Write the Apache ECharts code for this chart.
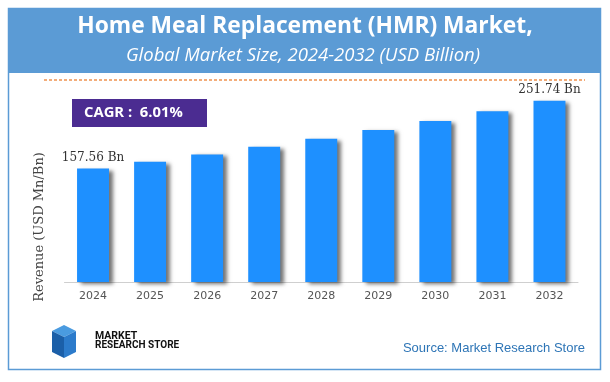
<!DOCTYPE html>
<html>
<head>
<meta charset="utf-8">
<script src="https://cdn.jsdelivr.net/npm/echarts@6/dist/echarts.min.js"></script>
<style>
html,body{margin:0;padding:0;background:#fff;}
#c{width:610px;height:382px;}
</style>
</head>
<body>
<div id="c"></div>
<script>
var years = ['2024','2025','2026','2027','2028','2029','2030','2031','2032'];
var revenue = [157.56, 167.0, 177.1, 187.7, 199.0, 211.0, 223.6, 237.1, 251.74];
var titleText = 'Home Meal Replacement (HMR) Market,';
var subtitleText = 'Global Market Size, 2024-2032 (USD Billion)';
var cagrText = 'CAGR :  6.01%';
var yAxisTitle = 'Revenue (USD Mn/Bn)';
var sourceText = 'Source: Market Research Store';

var chart = echarts.init(document.getElementById('c'), null, {renderer:'canvas'});
var last = revenue.length - 1;
chart.setOption({
  animation:false,
  backgroundColor:'#fff',
  grid:{left:64.5, right:32, top:66, bottom:100},
  xAxis:{
    type:'category', data:years,
    axisLine:{show:true, lineStyle:{color:'#cfcfcf', width:1}},
    axisTick:{show:false},
    axisLabel:{color:'#555', fontFamily:'DejaVu Sans', fontSize:11, margin:9}
  },
  yAxis:{type:'value', min:0, max:300, show:false, splitLine:{show:false}},
  series:[{
    type:'bar', data:revenue, barWidth:'56%',
    itemStyle:{color:'#1E90FF', shadowColor:'rgba(0,0,0,0.55)', shadowBlur:4, shadowOffsetX:4, shadowOffsetY:2},
    label:{show:true, position:'top', distance:5, color:'#333', fontFamily:'DejaVu Serif', fontSize:12,
      formatter:function(p){ return (p.dataIndex===0 || p.dataIndex===last) ? p.value.toFixed(2)+' Bn' : ''; }}
  }],
  graphic:[
    {type:'rect', shape:{x:8.5,y:8.5,width:592,height:361}, style:{fill:'none', stroke:'#5B9BD5', lineWidth:1.5}, z:1},
    {type:'rect', shape:{x:8,y:8,width:593,height:65}, style:{fill:'#5B9BD5'}, z:2},
    {type:'text', x:305, y:27, style:{text:titleText, fill:'#fff', font:'bold 22.8px "Open Sans"', textAlign:'center', textVerticalAlign:'middle'}, z:3},
    {type:'text', x:303, y:56, style:{text:subtitleText, fill:'#fff', font:'italic 18.5px "Open Sans"', textAlign:'center', textVerticalAlign:'middle'}, z:3},
    {type:'line', shape:{x1:44,y1:80,x2:585,y2:80}, style:{stroke:'#F0934F', lineWidth:1.5, lineDash:[3,2]}, z:3},
    {type:'rect', shape:{x:72,y:99,width:135,height:28}, style:{fill:'#4B2C91'}, z:3},
    {type:'text', x:84, y:113, style:{text:cagrText, fill:'#fff', font:'bold 14.8px "Open Sans"', textVerticalAlign:'middle'}, z:4},
    {type:'text', x:40, y:227, rotation:Math.PI/2, style:{text:yAxisTitle, fill:'#444', font:'13px "DejaVu Serif"', textAlign:'center', textVerticalAlign:'middle'}, z:3},
    {type:'polygon', shape:{points:[[52,331],[64,325],[76,331],[64,337]]}, style:{fill:'#4A9BE0'}, z:3},
    {type:'polygon', shape:{points:[[52,331],[64,337],[64,358],[52,352]]}, style:{fill:'#1B5FA8'}, z:3},
    {type:'polygon', shape:{points:[[64,337],[76,331],[76,352],[64,358]]}, style:{fill:'#2C7BCB'}, z:3},
    {type:'text', x:95, y:336, style:{text:'MARKET', fill:'#111', font:'bold 10.5px Roboto', textVerticalAlign:'middle'}, z:3},
    {type:'text', x:95, y:345, style:{text:'RESEARCH STORE', fill:'#111', font:'bold 10px Roboto', textVerticalAlign:'middle'}, z:3},
    {type:'text', x:585, y:348, style:{text:sourceText, fill:'#2E75B6', font:'13px "Liberation Sans"', textAlign:'right', textVerticalAlign:'middle'}, z:3}
  ]
});
</script>
</body>
</html>
